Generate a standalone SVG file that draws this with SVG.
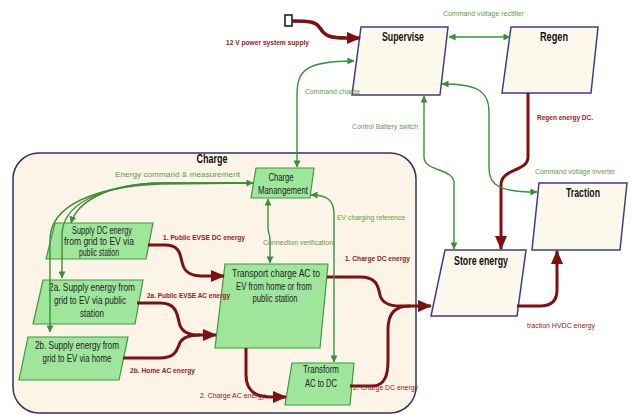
<svg xmlns="http://www.w3.org/2000/svg" width="632" height="415" viewBox="0 0 632 415">
<style>
text{font-family:"Liberation Sans",Arial,sans-serif}
.cn{fill:#fdf8ec;stroke:#3d3d8f;stroke-width:1.5}
.gn{fill:#9fe59c;stroke:#3f9a3f;stroke-width:1.2}
.t{font-weight:bold;font-size:12px;fill:#111;text-anchor:middle}
.nt{font-size:10px;fill:#222;text-anchor:middle}
.lg{font-size:8px;fill:#5d9c4c}
.lr{font-size:8px;fill:#962020}
.b{font-weight:bold}
.g{fill:none;stroke:#3b8f3b;stroke-width:1.4}
.r{fill:none;stroke:#7d1010;stroke-width:3}
</style>
<defs>
<marker id="ra" viewBox="0 0 14 12" refX="13" refY="6" markerWidth="14" markerHeight="12" markerUnits="userSpaceOnUse" orient="auto"><path d="M0,0 L14,6 L0,12 z" fill="#7d1010"/></marker>
<marker id="ga" viewBox="0 0 8 8" refX="7.5" refY="4" markerWidth="7" markerHeight="7" markerUnits="userSpaceOnUse" orient="auto-start-reverse"><path d="M0,0 L8,4 L0,8 z" fill="#3b8f3b"/></marker>
</defs>
<rect width="632" height="415" fill="#fff"/>
<g id="charge">
<rect x="13" y="153" width="403" height="260" rx="26" fill="#fcf4e6" stroke="#33335e" stroke-width="1.5"/>
<text class="t" x="212" y="163" textLength="31" lengthAdjust="spacingAndGlyphs">Charge</text>
</g>
<g id="supervise"><polygon class="cn" points="361,27 448,27 440,95 352,95"/><text class="t" x="403" y="41" textLength="42" lengthAdjust="spacingAndGlyphs">Supervise</text></g>
<g id="regen"><polygon class="cn" points="511,27 598,27 591,93 502,93"/><text class="t" x="554" y="41" textLength="28" lengthAdjust="spacingAndGlyphs">Regen</text></g>
<g id="traction"><polygon class="cn" points="539,183 627,183 620,250 532,250"/><text class="t" x="583" y="197" textLength="34" lengthAdjust="spacingAndGlyphs">Traction</text></g>
<g id="store"><polygon class="cn" points="445,250 526,250 517,316 431,316"/><text class="t" x="481" y="265" textLength="54" lengthAdjust="spacingAndGlyphs">Store energy</text></g>
<g id="chargemgmt"><polygon class="gn" points="256,168 314,168 310,198 251,198"/><text class="nt" x="281" y="181" textLength="25" lengthAdjust="spacingAndGlyphs">Charge</text><text class="nt" x="283" y="194" textLength="50" lengthAdjust="spacingAndGlyphs">Manangement</text></g>
<g id="supplydc"><polygon class="gn" points="55,223 153,223 146,259 46,259"/><text class="nt" x="102" y="234" textLength="60" lengthAdjust="spacingAndGlyphs">Supply DC energy</text><text class="nt" x="99" y="245" textLength="70" lengthAdjust="spacingAndGlyphs">from grid to EV via</text><text class="nt" x="99" y="256" textLength="40" lengthAdjust="spacingAndGlyphs">public station</text></g>
<g id="supply2a"><polygon class="gn" points="43,280 143,280 135,324 33,324"/><text class="nt" x="92" y="291" textLength="86" lengthAdjust="spacingAndGlyphs">2a. Supply energy from</text><text class="nt" x="90" y="304" textLength="72" lengthAdjust="spacingAndGlyphs">grid to EV via public</text><text class="nt" x="92" y="317" textLength="24" lengthAdjust="spacingAndGlyphs">station</text></g>
<g id="supply2b"><polygon class="gn" points="28,337 128,337 119,380 19,380"/><text class="nt" x="77" y="349" textLength="84" lengthAdjust="spacingAndGlyphs">2b. Supply energy from</text><text class="nt" x="77" y="362" textLength="69" lengthAdjust="spacingAndGlyphs">grid to EV via home</text></g>
<g id="transport"><polygon class="gn" points="225,264 328,264 320,348 215,348"/><text class="nt" x="276" y="277" textLength="88" lengthAdjust="spacingAndGlyphs">Transport charge AC to</text><text class="nt" x="274" y="290" textLength="76" lengthAdjust="spacingAndGlyphs">EV from home or from</text><text class="nt" x="275" y="302" textLength="45" lengthAdjust="spacingAndGlyphs">public station</text></g>
<g id="transform"><polygon class="gn" points="292,363 354,363 350,405 285,405"/><text class="nt" x="321" y="373" textLength="36" lengthAdjust="spacingAndGlyphs">Transform</text><text class="nt" x="321" y="387" textLength="32" lengthAdjust="spacingAndGlyphs">AC to DC</text></g>
<g id="supply12v"><rect x="285" y="15" width="7" height="11" fill="#fff" stroke="#111" stroke-width="1.5"/></g>
<g id="connectors">
<path class="r" style="stroke-width:3.5" d="M292,21 C312,21 316,22 320,28 C325,36 330,38 346,38 L360,38" marker-end="url(#ra)"/>
<path class="r" d="M528,93 L528,157 C528,172 501,168 501,185 L501,249" marker-end="url(#ra)"/>
<path class="r" d="M517,306 L540,306 C552,306 557,300 557,290 L557,251" marker-end="url(#ra)"/>
<path class="r" d="M327,277 L360,277 C376,277 378,285 380,295 C382,303 390,306 400,306 L431,306" marker-end="url(#ra)"/>
<path class="r" d="M350,386 L372,386 C385,386 388,375 388,360 L388,330 C388,313 395,306 410,306"/>
<path class="r" d="M148,245 L165,245 C178,245 180,252 182,262 C184,272 190,276 202,276 L224,276" marker-end="url(#ra)"/>
<path class="r" d="M137,303 L160,303 C175,303 177,312 179,322 C181,332 188,335 200,335 L216,335" marker-end="url(#ra)"/>
<path class="r" d="M123,358 L160,358 C175,358 177,350 179,345 C181,338 188,335 200,335"/>
<path class="r" d="M246,348 L246,375 C246,390 255,397 270,397 L286,397" marker-end="url(#ra)"/>
<path class="g" d="M449,37 L510,37" marker-start="url(#ga)" marker-end="url(#ga)"/>
<path class="g" d="M297,167 L297,95 C297,70 306,61 354,61" marker-start="url(#ga)" marker-end="url(#ga)"/>
<path class="g" d="M424,96 L424,157 C424,172 454,168 454,183 L454,249" marker-start="url(#ga)" marker-end="url(#ga)"/>
<path class="g" d="M442,84 C476,84 489,90 489,112 L489,168 C489,186 500,192 537,192" marker-start="url(#ga)" marker-end="url(#ga)"/>
<path class="g" d="M268,199 L268,228 C268,233 270,234 270,240 L270,263" marker-start="url(#ga)" marker-end="url(#ga)"/>
<path class="g" d="M311,195 C327,195 334,200 334,214 L334,362" marker-start="url(#ga)" marker-end="url(#ga)"/>
<path class="g" d="M71,223 C78,200 110,184 160,183 L253,183" marker-start="url(#ga)" marker-end="url(#ga)"/>
<path class="g" d="M62,278 L62,235 C62,205 100,185 160,183 L253,183" marker-start="url(#ga)"/>
<path class="g" d="M50,332 L50,240 C50,205 95,187 160,184 L253,183" marker-start="url(#ga)"/>
</g>
<g id="labels">
<text class="lr b" x="226" y="45" textLength="83" lengthAdjust="spacingAndGlyphs">12 V power system supply</text>
<text class="lg" x="443" y="16" textLength="81" lengthAdjust="spacingAndGlyphs">Command voltage rectifier</text>
<text class="lg" x="305" y="94" textLength="55" lengthAdjust="spacingAndGlyphs">Command charge</text>
<text class="lg" x="352" y="129" textLength="66" lengthAdjust="spacingAndGlyphs">Control Battery switch</text>
<text class="lr b" x="537" y="120" textLength="56" lengthAdjust="spacingAndGlyphs">Regen energy DC.</text>
<text class="lg" x="535" y="174" textLength="80" lengthAdjust="spacingAndGlyphs">Command voltage inverter</text>
<text class="lg" x="115" y="177" textLength="125" lengthAdjust="spacingAndGlyphs">Energy command &amp; measurement</text>
<text class="lr b" x="163" y="240" textLength="82" lengthAdjust="spacingAndGlyphs">1. Public EVSE DC energy</text>
<text class="lg" x="263" y="245" textLength="70" lengthAdjust="spacingAndGlyphs">Connection verification</text>
<text class="lg" x="337" y="220" textLength="68" lengthAdjust="spacingAndGlyphs">EV charging reference</text>
<text class="lr b" x="345" y="261" textLength="65" lengthAdjust="spacingAndGlyphs">1. Charge DC energy</text>
<text class="lr b" x="147" y="298" textLength="83" lengthAdjust="spacingAndGlyphs">2a. Public EVSE AC energy</text>
<text class="lr b" x="130" y="373" textLength="65" lengthAdjust="spacingAndGlyphs">2b. Home AC energy</text>
<text class="lr" x="200" y="398" textLength="65" lengthAdjust="spacingAndGlyphs">2. Charge AC energy</text>
<text class="lr" x="353" y="390" textLength="65" lengthAdjust="spacingAndGlyphs">2. Charge DC energy</text>
<text class="lr" x="527" y="328" textLength="68" lengthAdjust="spacingAndGlyphs">traction HVDC energy</text>
</g>
</svg>
